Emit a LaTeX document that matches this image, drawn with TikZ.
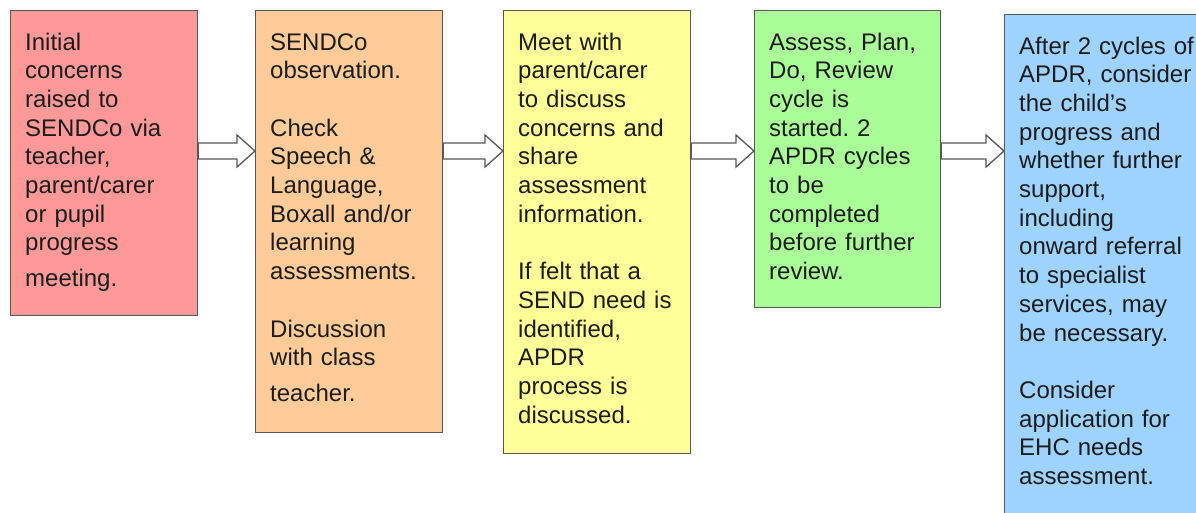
\documentclass[tikz,border=0pt]{standalone}
\usepackage{fontspec}
\setmainfont{Liberation Sans}
\usetikzlibrary{calc}
\frenchspacing
\definecolor{cred}{HTML}{FF9999}
\definecolor{corange}{HTML}{FFCC99}
\definecolor{cyellow}{HTML}{FFFF99}
\definecolor{cgreen}{HTML}{AAFF99}
\definecolor{cblue}{HTML}{9FD3FF}
\definecolor{cline}{HTML}{595959}
\definecolor{ctext}{HTML}{1C1C1C}
\tikzset{
  stagebox/.style={draw=cline, line width=1.3pt, anchor=north west, inner sep=0pt, minimum width=187pt},
  stagetext/.style={anchor=base west, inner sep=0pt, text width=190pt, align=left, text=ctext,
    font=\fontsize{24}{28.7}\selectfont\frenchspacing},
  blockarrow/.style={draw=cline, line width=1.3pt, fill=white, line join=miter},
}
\newcommand\blockarr[2]{%
  \draw[blockarrow] let \p1=(#1.east), \p2=(#2.west) in
    (\x1,-143pt) -- (\x2-18pt,-143pt) -- (\x2-18pt,-135pt) -- (\x2,-151pt)
    -- (\x2-18pt,-167pt) -- (\x2-18pt,-159pt) -- (\x1,-159pt) -- cycle;}
\begin{document}
\begin{tikzpicture}[x=1pt,y=1pt]
\useasboundingbox (0,0) rectangle (1196,-512);
\clip (0,0) rectangle (1196,-512);
\fill[white] (0,0) rectangle (1196,-512);
% boxes
\node[stagebox, fill=cred, minimum height=305pt] (b1) at (10,-10) {};
\node[stagebox, fill=corange, minimum height=422pt] (b2) at (255,-10) {};
\node[stagebox, fill=cyellow, minimum height=443pt] (b3) at (503,-10) {};
\node[stagebox, fill=cgreen, minimum width=186pt, minimum height=297pt] (b4) at (754,-10) {};
\node[stagebox, fill=cblue, minimum width=210pt, minimum height=520pt] (b5) at (1004,-14) {};
% texts
\node[stagetext] (t1) at ($(b1.north west)+(15,-40)$) {Initial\\ concerns\\ raised to\\ SENDCo via\\ teacher,\\ parent/carer\\ or pupil\\ progress\\[7pt] meeting.};
\node[stagetext] (t2) at ($(b2.north west)+(15,-40)$) {SENDCo\\ observation.\\[28.7pt] Check\\ Speech \&\\ Language,\\ Boxall and/or\\ learning\\ assessments.\\[28.7pt] Discussion\\ with class\\[7pt] teacher.};
\node[stagetext] (t3) at ($(b3.north west)+(15,-40)$) {Meet with\\ parent/carer\\ to discuss\\ concerns and\\ share\\ assessment\\ information.\\[28.7pt] If felt that a\\ SEND need is\\ identified,\\ APDR\\ process is\\ discussed.};
\node[stagetext] (t4) at ($(b4.north west)+(15,-40)$) {Assess, Plan,\\ Do, Review\\ cycle is\\ started. 2\\ APDR cycles\\ to be\\ completed\\ before further\\ review.};
\node[stagetext] (t5) at ($(b5.north west)+(15,-40)$) {After 2 cycles of\\ APDR, consider\\ the child’s\\ progress and\\ whether further\\ support,\\ including\\ onward referral\\ to specialist\\ services, may\\ be necessary.\\[28.7pt] Consider\\ application for\\ EHC needs\\ assessment.};
% arrows
\blockarr{b1}{b2}
\blockarr{b2}{b3}
\blockarr{b3}{b4}
\blockarr{b4}{b5}
\end{tikzpicture}
\end{document}
